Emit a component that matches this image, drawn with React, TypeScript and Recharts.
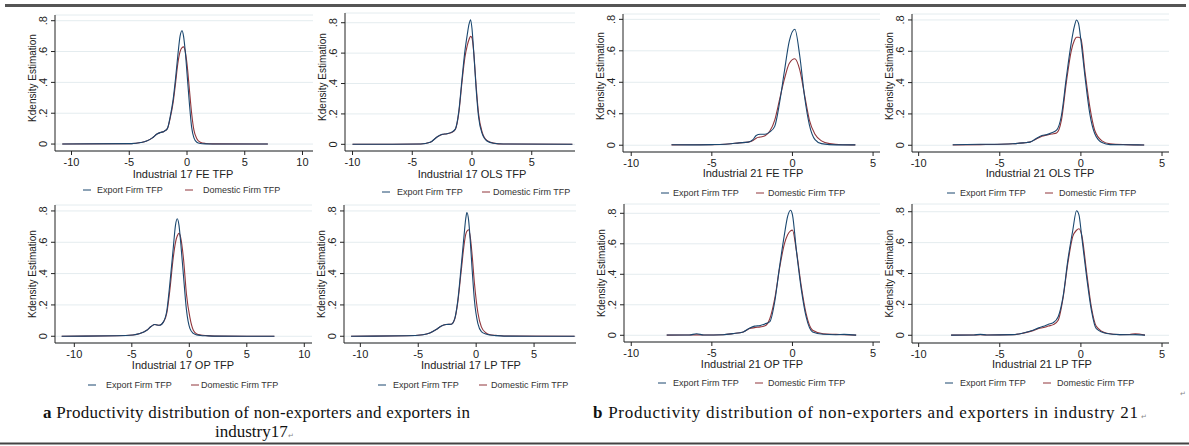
import React from "react";
import { LineChart, Line, XAxis, YAxis, CartesianGrid } from "recharts";

// Kernel density of firm TFP, exporters vs. non-exporters, industries 17 and 21

// industry 17, FE estimator
const fe17Tfp = [-10.8, -4.8, -4.0, -3.5, -3.0, -2.6, -2.3, -2.0, -1.7, -1.45, -1.2, -1.0, -0.8, -0.6, -0.43, -0.3, -0.15, 0, 0.2, 0.4, 0.6, 0.85, 1.15, 1.6, 2.2, 7.0];
const fe17Export = [0, 0.003, 0.01, 0.02, 0.04, 0.065, 0.075, 0.082, 0.1, 0.18, 0.29, 0.42, 0.57, 0.7, 0.735, 0.7, 0.6, 0.46, 0.27, 0.11, 0.04, 0.012, 0.004, 0.001, 0, 0];
const fe17Domestic = [0, 0.003, 0.01, 0.02, 0.04, 0.065, 0.075, 0.082, 0.1, 0.17, 0.27, 0.39, 0.52, 0.6, 0.625, 0.63, 0.6, 0.52, 0.36, 0.2, 0.09, 0.035, 0.012, 0.004, 0.001, 0];

// industry 17, OLS
const ols17Tfp = [-10.0, -4.3, -3.5, -2.9, -2.5, -2.1, -1.7, -1.4, -1.1, -0.85, -0.6, -0.4, -0.25, -0.12, 0, 0.15, 0.35, 0.55, 0.85, 1.25, 1.8, 2.6, 8.4];
const ols17Export = [0, 0.002, 0.013, 0.05, 0.066, 0.07, 0.08, 0.1, 0.22, 0.42, 0.61, 0.72, 0.79, 0.82, 0.76, 0.6, 0.36, 0.18, 0.07, 0.022, 0.007, 0.002, 0];
const ols17Domestic = [0, 0.002, 0.013, 0.05, 0.064, 0.07, 0.078, 0.098, 0.21, 0.4, 0.57, 0.65, 0.69, 0.71, 0.7, 0.6, 0.38, 0.2, 0.08, 0.025, 0.008, 0.002, 0];

// industry 21, FE
const fe21Tfp = [-7.5, -6.4, -5.0, -4.0, -3.3, -2.75, -2.45, -2.25, -2.0, -1.7, -1.4, -1.1, -0.8, -0.5, -0.2, 0.15, 0.45, 0.75, 1.05, 1.4, 1.8, 2.3, 3.1, 3.9];
const fe21Export = [0.003, 0.002, 0.004, 0.008, 0.015, 0.02, 0.036, 0.062, 0.07, 0.07, 0.085, 0.12, 0.27, 0.47, 0.66, 0.737, 0.57, 0.31, 0.13, 0.036, 0.01, 0.004, 0.002, 0.002];
const fe21Domestic = [0.002, 0.003, 0.004, 0.008, 0.015, 0.02, 0.03, 0.045, 0.052, 0.06, 0.09, 0.16, 0.29, 0.42, 0.52, 0.55, 0.48, 0.32, 0.16, 0.07, 0.028, 0.01, 0.003, 0.002];

// industry 21, OLS
const ols21Tfp = [-7.9, -6.2, -4.2, -3.55, -3.15, -2.75, -2.4, -2.1, -1.8, -1.5, -1.2, -0.9, -0.6, -0.4, -0.27, -0.15, 0, 0.25, 0.55, 0.85, 1.3, 1.8, 2.8, 3.9];
const ols21Export = [0.003, 0.006, 0.01, 0.015, 0.02, 0.043, 0.062, 0.068, 0.08, 0.096, 0.19, 0.43, 0.65, 0.76, 0.8, 0.78, 0.67, 0.44, 0.2, 0.075, 0.017, 0.004, 0.003, 0.002];
const ols21Domestic = [0.002, 0.004, 0.01, 0.015, 0.02, 0.04, 0.058, 0.065, 0.072, 0.078, 0.16, 0.4, 0.6, 0.67, 0.69, 0.69, 0.68, 0.47, 0.245, 0.096, 0.028, 0.009, 0.004, 0.002];

// industry 17, OP
const op17Tfp = [-11.1, -6.3, -4.9, -4.3, -3.7, -3.3, -3.0, -2.6, -2.25, -1.95, -1.7, -1.4, -1.2, -1.05, -0.9, -0.75, -0.5, -0.25, 0.05, 0.35, 0.65, 1.0, 1.5, 2.2, 7.4];
const op17Export = [0, 0.003, 0.008, 0.017, 0.038, 0.064, 0.075, 0.07, 0.092, 0.166, 0.33, 0.56, 0.71, 0.75, 0.71, 0.6, 0.38, 0.17, 0.05, 0.018, 0.009, 0.005, 0.003, 0.001, 0];
const op17Domestic = [0, 0.003, 0.008, 0.017, 0.038, 0.064, 0.075, 0.07, 0.09, 0.15, 0.29, 0.5, 0.6, 0.64, 0.657, 0.63, 0.49, 0.27, 0.12, 0.038, 0.015, 0.008, 0.004, 0.001, 0];

// industry 17, LP
const lp17Tfp = [-10.8, -6.0, -4.6, -4.0, -3.45, -3.0, -2.6, -2.15, -1.85, -1.6, -1.3, -1.05, -0.9, -0.8, -0.65, -0.5, -0.35, -0.15, 0.15, 0.45, 0.85, 1.2, 1.7, 2.4, 8.5];
const lp17Export = [0, 0.003, 0.01, 0.021, 0.043, 0.066, 0.075, 0.077, 0.113, 0.22, 0.44, 0.64, 0.75, 0.79, 0.74, 0.6, 0.43, 0.23, 0.08, 0.03, 0.014, 0.008, 0.004, 0.001, 0];
const lp17Domestic = [0, 0.003, 0.01, 0.021, 0.043, 0.066, 0.075, 0.077, 0.11, 0.21, 0.41, 0.58, 0.65, 0.67, 0.68, 0.63, 0.52, 0.34, 0.15, 0.06, 0.021, 0.01, 0.006, 0.002, 0];

// industry 21, OP
const op21Tfp = [-7.8, -6.4, -5.95, -5.5, -4.3, -3.7, -3.05, -2.65, -2.35, -2.0, -1.7, -1.4, -1.1, -0.8, -0.5, -0.3, -0.12, 0, 0.25, 0.55, 0.85, 1.25, 1.9, 2.7, 3.2, 3.95];
const op21Export = [0.002, 0.002, 0.01, 0.002, 0.004, 0.011, 0.022, 0.048, 0.06, 0.064, 0.075, 0.09, 0.22, 0.45, 0.66, 0.78, 0.82, 0.79, 0.55, 0.3, 0.12, 0.022, 0.007, 0.004, 0.006, 0.001];
const op21Domestic = [0.001, 0.002, 0.003, 0.002, 0.004, 0.011, 0.022, 0.044, 0.05, 0.055, 0.062, 0.11, 0.24, 0.44, 0.6, 0.66, 0.685, 0.69, 0.55, 0.32, 0.14, 0.033, 0.01, 0.006, 0.004, 0.001];

// industry 21, LP
const lp21Tfp = [-8.0, -6.6, -6.2, -5.8, -4.2, -3.55, -2.95, -2.6, -2.3, -2.0, -1.7, -1.4, -1.1, -0.8, -0.5, -0.27, -0.12, 0.05, 0.35, 0.65, 0.95, 1.6, 2.4, 3.0, 3.35, 3.95];
const lp21Export = [0.001, 0.002, 0.006, 0.002, 0.004, 0.015, 0.032, 0.048, 0.058, 0.071, 0.082, 0.12, 0.25, 0.49, 0.68, 0.806, 0.78, 0.64, 0.38, 0.16, 0.043, 0.011, 0.004, 0.003, 0.004, 0.001];
const lp21Domestic = [0.001, 0.002, 0.003, 0.002, 0.004, 0.014, 0.03, 0.044, 0.05, 0.06, 0.069, 0.097, 0.24, 0.47, 0.64, 0.68, 0.69, 0.65, 0.41, 0.18, 0.058, 0.013, 0.004, 0.005, 0.01, 0.001];

const densityTicks = [0, 0.2, 0.4, 0.6, 0.8];
const ticks17 = [-10, -5, 0, 5, 10];
const ticksShort = [-10, -5, 0, 5];
const seriesNames = ["Export Firm TFP", "Domestic Firm TFP"];
const captionA = ["Productivity distribution of non-exporters and exporters in", "industry17"];
const captionB = "Productivity distribution of non-exporters and exporters in industry 21";

const NAVY = "#1a476f";
const MAROON = "#90353b";
const INK = "#222";
const SANS = "'Liberation Sans', Arial, sans-serif";
const SERIF = "'Liberation Serif', 'Times New Roman', serif";

const PAD_L = 50;
const PAD_T = 6;
const PAD_R = 6;
const PAD_B = 34;

type PanelSpec = {
  title: string;
  xs: number[];
  exp: number[];
  dom: number[];
  left: number;
  right: number;
  top: number;
  bottom: number;
  xDomain: [number, number];
  yDomain: [number, number];
  xTicks: number[];
  titleX: number;
  titleY: number;
  yTitleDy: number;
  keyY: number;
  keyDash: [number, number];
  keyText: [number, number];
};

const panels: PanelSpec[] = [
  { title: "Industrial 17 FE TFP", xs: fe17Tfp, exp: fe17Export, dom: fe17Domestic, left: 55, right: 313, top: 15, bottom: 151, xDomain: [-11.43, 10.91], yDomain: [-0.045, 0.837], xTicks: ticks17, titleX: 183, titleY: 178, yTitleDy: -5, keyY: 190, keyDash: [83, 185], keyText: [97, 203] },
  { title: "Industrial 17 OLS TFP", xs: ols17Tfp, exp: ols17Export, dom: ols17Domestic, left: 345, right: 575, top: 13, bottom: 151, xDomain: [-10.63, 8.62], yDomain: [-0.044, 0.864], xTicks: ticksShort, titleX: 472, titleY: 178, yTitleDy: -5, keyY: 192, keyDash: [382, 482], keyText: [397, 493] },
  { title: "Industrial 21 FE TFP", xs: fe21Tfp, exp: fe21Export, dom: fe21Domestic, left: 623, right: 880, top: 14, bottom: 152, xDomain: [-10.51, 5.43], yDomain: [-0.043, 0.834], xTicks: ticksShort, titleX: 753, titleY: 177, yTitleDy: -7, keyY: 193, keyDash: [661, 756], keyText: [673, 768] },
  { title: "Industrial 21 OLS TFP", xs: ols21Tfp, exp: ols21Export, dom: ols21Domestic, left: 912, right: 1169, top: 14, bottom: 152, xDomain: [-10.41, 5.43], yDomain: [-0.043, 0.838], xTicks: ticksShort, titleX: 1040, titleY: 177, yTitleDy: -7, keyY: 193, keyDash: [947, 1045], keyText: [960, 1059] },
  { title: "Industrial 17 OP TFP", xs: op17Tfp, exp: op17Export, dom: op17Domestic, left: 55, right: 312, top: 205, bottom: 343, xDomain: [-11.68, 10.67], yDomain: [-0.043, 0.838], xTicks: ticks17, titleX: 183, titleY: 369, yTitleDy: 0, keyY: 385, keyDash: [88, 191], keyText: [106, 201] },
  { title: "Industrial 17 LP TFP", xs: lp17Tfp, exp: lp17Export, dom: lp17Domestic, left: 344, right: 576, top: 205, bottom: 343, xDomain: [-11.41, 8.62], yDomain: [-0.043, 0.838], xTicks: ticksShort, titleX: 471, titleY: 369, yTitleDy: 0, keyY: 385, keyDash: [378, 479], keyText: [393, 491] },
  { title: "Industrial 21 OP TFP", xs: op21Tfp, exp: op21Export, dom: op21Domestic, left: 624, right: 880, top: 204, bottom: 342, xDomain: [-10.45, 5.43], yDomain: [-0.044, 0.861], xTicks: ticksShort, titleX: 752, titleY: 368, yTitleDy: 0, keyY: 383, keyDash: [658, 755], keyText: [673, 768] },
  { title: "Industrial 21 LP TFP", xs: lp21Tfp, exp: lp21Export, dom: lp21Domestic, left: 912, right: 1169, top: 204, bottom: 343, xDomain: [-10.41, 5.43], yDomain: [-0.05, 0.85], xTicks: ticksShort, titleX: 1042, titleY: 368, yTitleDy: 0, keyY: 383, keyDash: [945, 1043], keyText: [960, 1057] },
];

// Stata-style density labels: 0, .2, .4 ...
const fmtDensity = (v: number) => (v === 0 ? "0" : String(Math.round(v * 10) / 10).replace(/^0/, ""));

const YTick = (props: any) => {
  const { x, y, payload } = props;
  return (
    <text x={x} y={y} transform={`rotate(-90 ${x} ${y})`} textAnchor="middle" fontSize={11} fill={INK} fontFamily={SANS}>
      {fmtDensity(payload.value)}
    </text>
  );
};

const YTitle = (props: any) => {
  const vb = props.viewBox || { x: 0, y: 0, width: PAD_L, height: 0 };
  const x = vb.x + vb.width - 19;
  const y = vb.y + vb.height / 2 + (props.dy || 0);
  return (
    <text x={x} y={y} transform={`rotate(-90 ${x} ${y})`} textAnchor="middle" fontSize={10} fill={INK} fontFamily={SANS}>
      Kdensity Estimation
    </text>
  );
};

const XTitle = (props: any) => (
  <text x={props.cx} y={props.cy} textAnchor="middle" fontSize={11} fill={INK} fontFamily={SANS}>
    {props.text}
  </text>
);

const Panel = ({ p }: { p: PanelSpec }) => {
  const w = p.right - p.left;
  const h = p.bottom - p.top;
  const chartLeft = p.left - PAD_L;
  const chartTop = p.top - PAD_T;
  const data = p.xs.map((x, i) => ({ x, exp: p.exp[i], dom: p.dom[i] }));
  return (
    <div style={{ position: "absolute", left: chartLeft, top: chartTop }}>
      <LineChart
        width={w + PAD_L + PAD_R}
        height={h + PAD_T + PAD_B}
        data={data}
        margin={{ top: PAD_T, right: PAD_R, bottom: 0, left: 0 }}
      >
        <CartesianGrid vertical={false} stroke="#e4ecef" />
        <XAxis
          type="number"
          dataKey="x"
          domain={p.xDomain}
          ticks={p.xTicks}
          allowDataOverflow
          interval={0}
          height={PAD_B}
          tickSize={4}
          tickMargin={3}
          stroke={INK}
          tick={{ fontSize: 11, fill: INK, fontFamily: SANS }}
          label={<XTitle text={p.title} cx={p.titleX - chartLeft} cy={p.titleY - chartTop} />}
        />
        <YAxis
          type="number"
          domain={p.yDomain}
          ticks={densityTicks}
          allowDataOverflow
          interval={0}
          width={PAD_L}
          tickSize={4}
          tickMargin={4}
          stroke={INK}
          tick={<YTick />}
          label={<YTitle dy={p.yTitleDy} />}
        />
        <Line type="monotone" dataKey="dom" stroke={MAROON} strokeWidth={1.1} dot={false} isAnimationActive={false} />
        <Line type="monotone" dataKey="exp" stroke={NAVY} strokeWidth={1.1} dot={false} isAnimationActive={false} />
      </LineChart>
    </div>
  );
};

const Keys = () => (
  <>
    {panels.map((p, i) => (
      <g key={i} fontFamily={SANS} fontSize={9} fill="#333">
        <line x1={p.keyDash[0]} x2={p.keyDash[0] + 8} y1={p.keyY} y2={p.keyY} stroke={NAVY} strokeWidth={1} />
        <text x={p.keyText[0]} y={p.keyY + 3}>{seriesNames[0]}</text>
        <line x1={p.keyDash[1]} x2={p.keyDash[1] + 8} y1={p.keyY} y2={p.keyY} stroke={MAROON} strokeWidth={1} />
        <text x={p.keyText[1]} y={p.keyY + 3}>{seriesNames[1]}</text>
      </g>
    ))}
  </>
);

export default function App() {
  return (
    <div style={{ position: "absolute", left: 0, top: 0, width: 1189, height: 446, background: "#fff", overflow: "hidden" }}>
      {panels.map((p, i) => (
        <Panel key={i} p={p} />
      ))}
      <svg width={1189} height={446} style={{ position: "absolute", left: 0, top: 0, pointerEvents: "none" }}>
        <line x1={5} x2={1186} y1={5.5} y2={5.5} stroke="#555" strokeWidth={3} />
        <Keys />
        <g fontFamily={SERIF} fontSize={17} fill="#111">
          <text x={43} y={418} textLength={427} lengthAdjust="spacing">
            <tspan fontWeight="bold">a</tspan> {captionA[0]}
          </text>
          <text x={215} y={437}>{captionA[1]}</text>
          <text x={593} y={418} textLength={545} lengthAdjust="spacing">
            <tspan fontWeight="bold">b</tspan> {captionB}
          </text>
        </g>
        <g fontFamily={SANS} fontSize={7} fill="#888">
          <text x={288} y={438}>↵</text>
          <text x={1141} y={419}>↵</text>
          <text x={1180} y={396}>↵</text>
        </g>
        <line x1={0} x2={1189} y1={443.5} y2={443.5} stroke="#444" strokeWidth={2} />
      </svg>
    </div>
  );
}
